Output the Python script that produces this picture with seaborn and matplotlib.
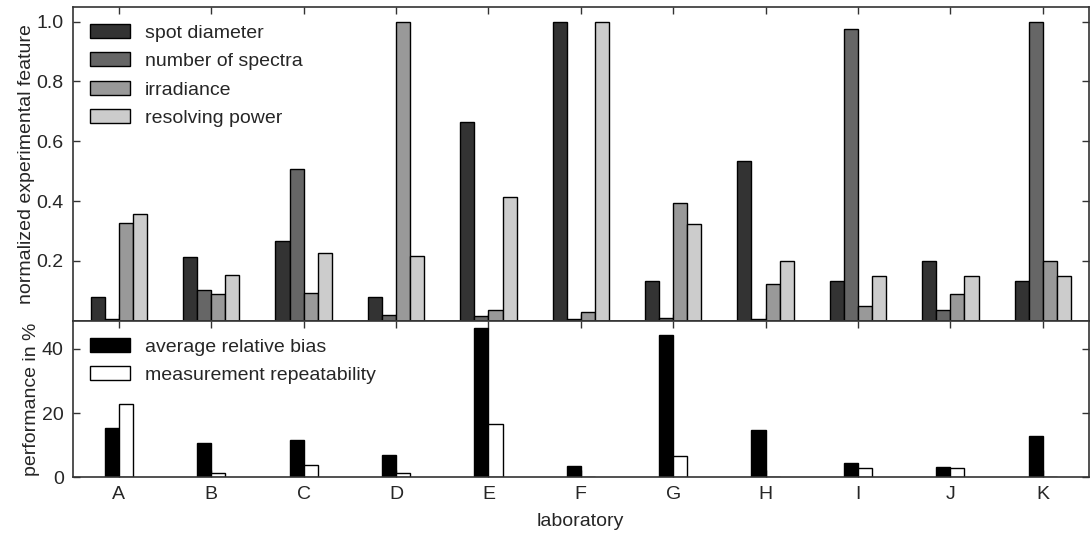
import pandas as pd
import matplotlib.pyplot as plt
import seaborn as sns

# laboratories and their features
labs = ['A', 'B', 'C', 'D', 'E', 'F', 'G', 'H', 'I', 'J', 'K']
spot_diameter = [0.080, 0.214, 0.268, 0.080, 0.666, 1.000, 0.133, 0.535, 0.133, 0.200, 0.133]
number_of_spectra = [0.005, 0.103, 0.508, 0.019, 0.017, 0.007, 0.010, 0.005, 0.976, 0.037, 1.000]
irradiance = [0.328, 0.088, 0.093, 1.000, 0.035, 0.030, 0.395, 0.123, 0.050, 0.088, 0.198]
resolving_power = [0.356, 0.152, 0.226, 0.217, 0.415, 1.000, 0.323, 0.200, 0.151, 0.151, 0.151]

avg_relative_bias = [15.3, 10.7, 11.7, 6.9, 46.6, 3.6, 44.3, 14.7, 4.5, 3.1, 12.9]
repeatability = [22.8, 1.3, 3.9, 1.3, 16.6, 0.1, 6.6, 0.0, 2.8, 2.8, 0.0]

feature_names = ['spot diameter', 'number of spectra', 'irradiance', 'resolving power']
feature_colors = ['#333333', '#666666', '#999999', '#cccccc']
perf_names = ['average relative bias', 'measurement repeatability']
perf_colors = ['#000000', '#ffffff']

# long-form tables for seaborn
top = pd.DataFrame({'laboratory': labs * 4,
                    'feature': sum([[n] * len(labs) for n in feature_names], []),
                    'value': spot_diameter + number_of_spectra + irradiance + resolving_power})
bottom = pd.DataFrame({'laboratory': labs * 2,
                       'measure': sum([[n] * len(labs) for n in perf_names], []),
                       'value': avg_relative_bias + repeatability})

sns.set_theme(style='ticks')
plt.rcParams['font.family'] = ['Liberation Sans', 'DejaVu Sans']
fs = 14

fig, (ax1, ax2) = plt.subplots(2, 1, figsize=(10.9, 5.33), dpi=100, sharex=True,
                               gridspec_kw={'height_ratios': [314, 156.6], 'hspace': 0})
fig.subplots_adjust(left=0.0667, right=0.999, top=0.9874, bottom=0.1045)

sns.barplot(data=top, x='laboratory', y='value', hue='feature', order=labs,
            hue_order=feature_names, palette=dict(zip(feature_names, feature_colors)),
            width=0.61, edgecolor='black', linewidth=1, saturation=1, ax=ax1)
sns.barplot(data=bottom, x='laboratory', y='value', hue='measure', order=labs,
            hue_order=perf_names, palette=dict(zip(perf_names, perf_colors)),
            width=0.305, edgecolor='black', linewidth=1, saturation=1, ax=ax2)

ax1.set_ylim(0, 1.05)
ax1.set_yticks([0.2, 0.4, 0.6, 0.8, 1.0])
ax1.set_yticklabels(['0.2', '0.4', '0.6', '0.8', '1.0'])
ax1.set_ylabel('normalized experimental feature', fontsize=fs, labelpad=1)
ax1.set_xlabel('')

ax2.set_ylim(0, 48.8)
ax2.set_yticks([0, 20, 40])
ax2.set_ylabel('performance in %', fontsize=fs, labelpad=1)
ax2.set_xlabel('laboratory', fontsize=fs, labelpad=7)
ax2.set_xlim(-0.5, 10.5)

for ax in (ax1, ax2):
    ax.tick_params(direction='in', length=5, width=1, top=True, right=True,
                   labelsize=fs, color='#333333', pad=6.5)
    for s in ax.spines.values():
        s.set_color('#333333')
        s.set_linewidth(1.2)
ax1.tick_params(labelbottom=False)

leg_kw = dict(loc='upper left', frameon=False, borderaxespad=0, borderpad=0,
              handlelength=2.05, handleheight=0.72, labelspacing=0.55,
              handletextpad=0.78, fontsize=fs)
ax1.legend(bbox_to_anchor=(0.017, 0.945), **leg_kw)
ax2.legend(bbox_to_anchor=(0.017, 0.89), **leg_kw)

plt.savefig('out.png', dpi=100)
